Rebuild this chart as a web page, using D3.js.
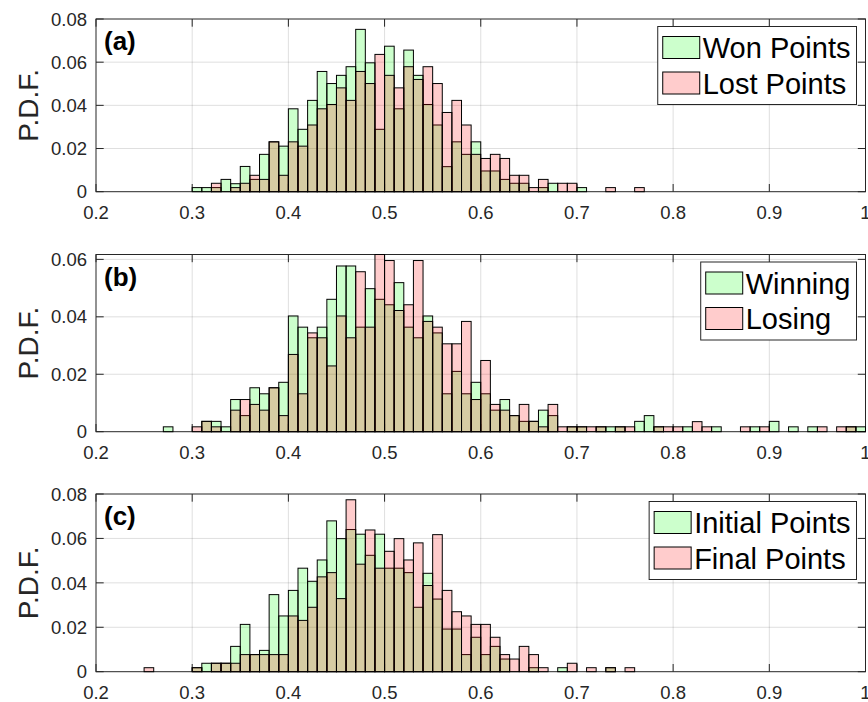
<!DOCTYPE html>
<html>
<head>
<meta charset="utf-8">
<script src="https://cdn.jsdelivr.net/npm/d3@7"></script>
<style>
body { margin: 0; background: #fff; }
text { font-family: "Liberation Sans", Arial, Helvetica, sans-serif; }
</style>
</head>
<body>
<div id="chart"></div>
<script>
// left edges of the 0.01 wide bins, 0.20 ... 0.99
const binEdges = d3.range(80).map(i => +(0.2 + i * 0.01).toFixed(2));
const binWidth = 0.01;

const xTicks = [0.2, 0.3, 0.4, 0.5, 0.6, 0.7, 0.8, 0.9, 1];
const yTicks = [0, 0.02, 0.04, 0.06, 0.08];

// (a)
const wonPoints = [
  0, 0, 0, 0, 0, 0, 0, 0, 0, 0,
  .0019, .0019, .0019, .0057, .0037, .0117, .0057, .0173, .0231, .0211,
  .0384, .0289, .0423, .0557, .0501, .0539, .0579, .0752, .0597, .0289,
  .0674, .0384, .0656, .0539, .0404, .0309, .0116, .0231, .0173, .0231,
  .0096, .0096, .0057, .0039, .0039, 0, .0019, .0039, 0, 0,
  .0019, 0, 0, 0, 0, 0, 0, 0, 0, 0,
  0, 0, 0, 0, 0, 0, 0, 0, 0, 0,
  0, 0, 0, 0, 0, 0, 0, 0, 0, 0
];
const lostPoints = [
  0, 0, 0, 0, 0, 0, 0, 0, 0, 0,
  0, 0, .0039, 0, .0019, .0039, .0076, .0057, .0231, .0076,
  .0231, .0211, .0309, .0384, .0404, .0481, .0423, .0557, .0501, .0636,
  .0539, .0481, .0579, .0520, .0579, .0501, .0367, .0423, .0309, .0173,
  .0154, .0173, .0154, .0076, .0076, .0019, .0057, 0, .0039, .0039,
  0, 0, 0, .0019, 0, 0, .0019, 0, 0, 0,
  0, 0, 0, 0, 0, 0, 0, 0, 0, 0,
  0, 0, 0, 0, 0, 0, 0, 0, 0, 0
];

// (b)
const winning = [
  0, 0, 0, 0, 0, 0, 0, .0017, 0, 0,
  0, .0036, .0036, .0017, .0112, .0056, .0153, .0132, .0153, .0172,
  .0403, .0364, .0327, .0364, .0461, .0577, .0577, .0364, .0498, .0461,
  .0442, .0519, .0364, .0327, .0403, .0344, .0132, .0210, .0132, .0172,
  .0132, .0075, .0112, .0056, .0036, .0036, .0075, .0056, 0, .0017,
  .0017, 0, .0017, .0017, .0017, 0, .0036, .0056, .0017, 0,
  0, .0017, 0, 0, .0017, 0, 0, 0, .0017, 0,
  .0036, 0, .0017, 0, .0017, 0, 0, 0, .0017, .0017
];
const losing = [
  0, 0, 0, 0, 0, 0, 0, 0, 0, 0,
  .0017, .0036, .0017, 0, .0075, .0112, .0095, .0075, .0153, .0056,
  .0269, .0132, .0344, .0327, .0229, .0403, .0327, .0557, .0364, .0617,
  .0596, .0422, .0442, .0596, .0384, .0364, .0306, .0306, .0384, .0112,
  .0248, .0095, .0075, .0056, .0095, .0036, .0017, .0095, .0017, .0017,
  .0017, .0017, .0017, 0, .0017, .0017, 0, 0, .0017, .0017,
  .0017, 0, .0035, .0017, 0, 0, 0, .0017, 0, .0017,
  0, 0, 0, 0, 0, .0017, 0, .0017, .0017, 0
];

// (c)
const initialPoints = [
  0, 0, 0, 0, 0, 0, 0, 0, 0, 0,
  .0018, .0038, .0038, .0038, .0114, .0213, .0077, .0096, .0347, .0251,
  .0366, .0466, .0407, .0503, .0679, .0599, .0640, .0619, .0524, .0619,
  .0466, .0466, .0446, .0290, .0443, .0327, .0192, .0192, .0077, .0155,
  .0077, .0114, .0057, 0, 0, .0018, 0, 0, .0018, 0,
  0, 0, 0, .0018, 0, 0, 0, 0, 0, 0,
  0, 0, 0, 0, 0, 0, 0, 0, 0, 0,
  0, 0, 0, 0, 0, 0, 0, 0, 0, 0
];
const finalPoints = [
  0, 0, 0, 0, 0, .0018, 0, 0, 0, 0,
  .0018, 0, .0038, .0038, .0038, .0077, .0077, .0077, .0077, .0077,
  .0251, .0231, .0290, .0427, .0446, .0329, .0774, .0484, .0638, .0466,
  .0542, .0599, .0503, .0580, .0388, .0617, .0366, .0270, .0251, .0213,
  .0213, .0155, .0077, .0057, .0114, .0077, .0018, 0, 0, .0038,
  0, .0018, 0, .0018, 0, .0018, 0, 0, 0, 0,
  0, 0, 0, 0, 0, 0, 0, 0, 0, 0,
  0, 0, 0, 0, 0, 0, 0, 0, 0, 0
];

let width = 868, height = 702;
let left = 96, right = 865.5;
let tickLen = 7.7;
let axisColor = "#262626";

let svg = d3.select("#chart").append("svg")
    .attr("width", width)
    .attr("height", height);

let x = d3.scaleLinear().domain([0.2, 1]).range([left, right]);

let panels = [
  {label: "(a)", top: 19, bottom: 191.7, ymax: 0.08, green: wonPoints, red: lostPoints,
   names: ["Won Points", "Lost Points"]},
  {label: "(b)", top: 254.5, bottom: 431.7, ymax: d3.max(losing.concat(winning)), green: winning, red: losing,
   names: ["Winning", "Losing"]},
  {label: "(c)", top: 494, bottom: 671.7, ymax: 0.08, green: initialPoints, red: finalPoints,
   names: ["Initial Points", "Final Points"]}
];

panels.forEach(drawPanel);

function drawPanel(p) {
    let y = d3.scaleLinear().domain([0, p.ymax]).range([p.bottom, p.top]);
    let g = svg.append("g");
    let yt = yTicks.filter(d => d <= p.ymax + 1e-9);

    // grid
    g.selectAll(".vgrid").data(xTicks.slice(1, -1)).enter().append("line")
        .attr("x1", d => x(d)).attr("x2", d => x(d))
        .attr("y1", p.top).attr("y2", p.bottom)
        .attr("stroke", axisColor).attr("stroke-opacity", 0.15);
    g.selectAll(".hgrid").data(yt.filter(d => d > 0 && d < p.ymax - 1e-9)).enter().append("line")
        .attr("x1", left).attr("x2", right)
        .attr("y1", d => y(d)).attr("y2", d => y(d))
        .attr("stroke", axisColor).attr("stroke-opacity", 0.15);

    // ticks, inside on all four sides
    g.selectAll(".xt").data(xTicks).enter().append("path")
        .attr("d", d => "M" + x(d) + "," + p.bottom + "v" + (-tickLen) +
                        "M" + x(d) + "," + p.top + "v" + tickLen)
        .attr("stroke", axisColor);
    g.selectAll(".yt").data(yt).enter().append("path")
        .attr("d", d => "M" + left + "," + y(d) + "h" + tickLen +
                        "M" + right + "," + y(d) + "h" + (-tickLen))
        .attr("stroke", axisColor);

    g.append("rect")
        .attr("x", left).attr("y", p.top)
        .attr("width", right - left).attr("height", p.bottom - p.top)
        .attr("fill", "none").attr("stroke", axisColor);

    // tick labels
    g.selectAll(".xl").data(xTicks).enter().append("text")
        .attr("x", d => x(d)).attr("y", p.bottom + 27.5)
        .attr("text-anchor", "middle")
        .attr("font-size", "18.5px").attr("fill", axisColor)
        .text(d => d === 1 ? "1" : d.toFixed(1));
    g.selectAll(".yl").data(yt).enter().append("text")
        .attr("x", 87).attr("y", d => y(d))
        .attr("dy", "0.36em")
        .attr("text-anchor", "end")
        .attr("font-size", "18.5px").attr("fill", axisColor)
        .text(d => d === 0 ? "0" : d.toFixed(2));

    g.append("text")
        .attr("transform", "translate(38," + ((p.top + p.bottom) / 2) + ") rotate(-90)")
        .attr("text-anchor", "middle")
        .attr("font-size", "28px").attr("fill", axisColor)
        .text("P.D.F.");

    // histograms: green first, red drawn over it
    [[p.green, "#00ff00"], [p.red, "#ff0000"]].forEach(([vals, col]) => {
        g.append("g").selectAll("rect")
            .data(binEdges.map((b, i) => ({b: b, v: vals[i]})).filter(d => d.v > 0))
            .enter().append("rect")
            .attr("x", d => x(d.b))
            .attr("width", d => x(d.b + binWidth) - x(d.b))
            .attr("y", d => y(d.v))
            .attr("height", d => y(0) - y(d.v))
            .attr("fill", col).attr("fill-opacity", 0.2)
            .attr("stroke", "#000").attr("stroke-width", 1);
    });

    g.append("text")
        .attr("x", 104).attr("y", p.top + 31)
        .attr("font-size", "26px").attr("font-weight", "bold")
        .text(p.label);

    // legend
    let lg = g.append("g");
    let box = lg.append("rect")
        .attr("y", p.top + 7.5).attr("height", 78)
        .attr("fill", "#fff").attr("stroke", axisColor);
    let texts = p.names.map((n, i) => lg.append("text")
        .attr("y", p.top + 7.5 + 31.5 + i * 35.5)
        .attr("font-size", "29px").attr("fill", "#000")
        .text(n));
    let tw = d3.max(texts, t => t.node().getComputedTextLength());
    let bw = 5 + 37 + 3 + tw + 6;
    let bx = right - 9 - bw;
    box.attr("x", bx).attr("width", bw);
    texts.forEach(t => t.attr("x", bx + 45));
    ["#ccffcc", "#ffcccc"].forEach((c, i) => {
        lg.append("rect")
            .attr("x", bx + 5).attr("y", p.top + 7.5 + 10 + i * 35.5)
            .attr("width", 37).attr("height", 22)
            .attr("fill", c).attr("stroke", "#000");
    });
}
</script>
</body>
</html>
